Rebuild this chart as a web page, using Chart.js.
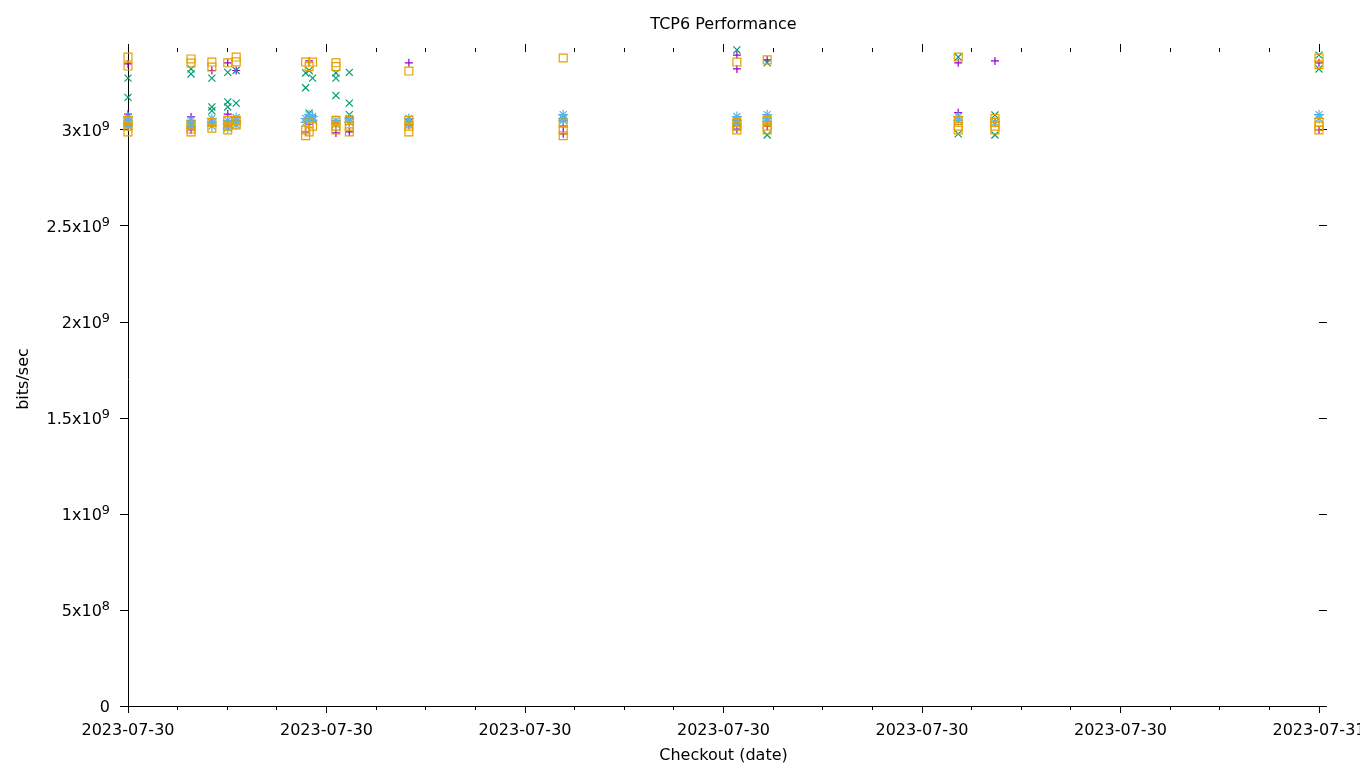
<!DOCTYPE html>
<html>
<head>
<meta charset="utf-8">
<title>TCP6 Performance</title>
<script src="https://cdn.jsdelivr.net/npm/chart.js@4.4.1/dist/chart.umd.min.js"></script>
<style>
    html, body { margin: 0; padding: 0; background: #fff; }
    #wrap { width: 1360px; height: 768px; }
</style>
</head>
<body>
<div id="wrap"><canvas id="perfChart"></canvas></div>
<script>
// hours after 2023-07-30 00:00 for each checkout run
const runHours = [0, 1.27, 1.69, 2.01, 2.18, 3.58, 3.65, 3.72, 4.19, 4.46, 5.66, 8.77, 12.27, 12.88, 16.73, 17.47, 24];

// measured throughput per run, in units of 1e9 bits/sec
const plusValues = [
    [3.344, 3.083, 3.02], [3.068, 3.0], [3.31, 3.04], [3.35, 3.083, 3.02], [3.31, 3.05],
    [2.99], [3.36, 3.03], [], [2.985, 3.03], [2.99, 3.04], [3.35, 3.026],
    [2.98, 3.02], [3.39, 3.318, 3.005], [3.365, 3.02], [3.35, 3.09], [3.36, 3.04], [3.35, 3.0]
];
const crossValues = [
    [3.27, 3.17, 3.04], [3.318, 3.292, 3.03], [3.27, 3.12, 3.1], [3.30, 3.146, 3.12], [3.31, 3.14],
    [3.297, 3.22], [3.31, 3.088], [3.27, 3.06], [3.297, 3.27, 3.18], [3.30, 3.14, 3.08], [3.04],
    [3.06], [3.417, 3.04], [3.35, 2.974], [3.38, 2.98], [3.078, 2.974], [3.39, 3.318]
];
const starValues = [
    [3.068, 3.05, 3.036, 3.02], [3.05, 3.036, 3.02], [3.06, 3.04, 3.02], [3.05, 3.03, 3.01], [3.065, 3.045, 3.026],
    [3.06, 3.04], [3.08, 3.06], [3.07, 3.05], [3.05, 3.03], [3.06, 3.04], [3.06, 3.03],
    [3.08, 3.06, 3.05], [3.07, 3.05, 3.03], [3.08, 3.06, 3.045], [3.07, 3.05], [3.04], [3.08, 3.06]
];
const squareValues = [
    [3.38, 3.333, 3.05, 3.02, 2.99], [3.37, 3.349, 3.026, 3.005, 2.99], [3.354, 3.328, 3.04, 3.01], [3.35, 3.05, 3.02, 3.0], [3.38, 3.355, 3.05, 3.026],
    [3.354, 3.0, 2.97], [3.33, 3.036, 2.99], [3.354, 3.02], [3.35, 3.33, 3.05, 3.02, 3.0], [3.05, 3.02, 2.99], [3.307, 3.05, 3.02, 2.99],
    [3.375, 3.036, 3.0, 2.97], [3.354, 3.04, 3.02, 3.0], [3.365, 3.05, 3.02, 3.0], [3.38, 3.05, 3.02, 3.0], [3.06, 3.04, 3.02, 3.0], [3.375, 3.34, 3.04, 3.02, 3.0]
];

const FAMILY = '"DejaVu Sans", sans-serif';
const FONT = { family: FAMILY, size: 16 };
const Y_MAX = 3.40625;

function toPoints(values) {
    const pts = [];
    values.forEach((list, i) => {
        list.forEach(v => pts.push({ x: runHours[i], y: v }));
    });
    return pts;
}

// "3x10" + superscript "9", gnuplot style
function sciParts(g) {
    const v = g * 1e9;
    if (v === 0) return ['0', ''];
    const exp = Math.floor(Math.log10(v) + 1e-9);
    const mant = +(v / Math.pow(10, exp)).toFixed(2);
    return [mant + 'x10', String(exp)];
}

function dateLabel(h) {
    return new Date(Date.UTC(2023, 6, 30) + h * 3600e3).toISOString().slice(0, 10);
}

// y tick labels with a real superscript exponent
const supLabels = {
    id: 'supLabels',
    afterDraw(chart) {
        const s = chart.scales.y;
        const ctx = chart.ctx;
        ctx.save();
        ctx.fillStyle = '#000';
        ctx.textAlign = 'left';
        ctx.textBaseline = 'alphabetic';
        s.ticks.forEach(t => {
            const [base, sup] = sciParts(t.value);
            const y = Math.round(s.getPixelForValue(t.value)) + 6;
            ctx.font = '12.8px ' + FAMILY;
            const ws = sup ? ctx.measureText(sup).width : 0;
            ctx.font = '16px ' + FAMILY;
            const wb = ctx.measureText(base).width;
            const xEnd = s.right - 18;
            ctx.fillText(base, xEnd - ws - wb, y);
            if (sup) {
                ctx.font = '12.8px ' + FAMILY;
                ctx.fillText(sup, xEnd - ws, y - 6);
            }
        });
        ctx.restore();
    },
};

// tick-only axis used for mirrored and minor tick marks
function tickAxis(position, step, len, weight, max) {
    return {
        type: 'linear',
        position: position,
        weight: weight,
        min: 0,
        max: max,
        ticks: { display: false, stepSize: step, includeBounds: false },
        grid: { drawOnChartArea: false, drawTicks: true, tickLength: len, color: '#000', tickColor: '#000' },
        border: { display: false },
        afterFit: s => {
            if (s.isHorizontal()) { s.height = 0; s.paddingLeft = 0; s.paddingRight = 0; }
            else { s.width = position === 'right' ? 41 : 0; s.paddingTop = 0; s.paddingBottom = 0; }
        },
    };
}

new Chart(document.getElementById('perfChart'), {
    type: 'scatter',
    data: {
        datasets: [
            {
                label: 'series 1',
                data: toPoints(plusValues),
                pointStyle: 'cross',
                pointRadius: 4,
                borderColor: '#9400d3',
                backgroundColor: 'rgba(0,0,0,0)',
                borderWidth: 1.2,
                clip: false,
                order: 4,
            },
            {
                label: 'series 2',
                data: toPoints(crossValues),
                pointStyle: 'crossRot',
                pointRadius: 5,
                borderColor: '#009e73',
                backgroundColor: 'rgba(0,0,0,0)',
                borderWidth: 1.2,
                clip: false,
                order: 3,
            },
            {
                label: 'series 3',
                data: toPoints(starValues),
                pointStyle: 'star',
                pointRadius: 5,
                borderColor: '#56b4e9',
                backgroundColor: 'rgba(0,0,0,0)',
                borderWidth: 1.2,
                clip: false,
                order: 2,
            },
            {
                label: 'series 4',
                data: toPoints(squareValues),
                pointStyle: 'rect',
                pointRadius: 5.6,
                borderColor: '#e69f00',
                backgroundColor: 'rgba(0,0,0,0)',
                borderWidth: 1.2,
                clip: false,
                order: 1,
            },
        ],
    },
    options: {
        responsive: true,
        maintainAspectRatio: false,
        animation: false,
        devicePixelRatio: 1,
        layout: { padding: 0 },
        plugins: {
            legend: { display: false },
            tooltip: { enabled: false },
            title: {
                display: true,
                fullSize: false,
                text: 'TCP6 Performance',
                color: '#000',
                font: { family: FAMILY, size: 16, weight: 'normal' },
                padding: { top: 15, bottom: 17.8 },
            },
        },
        scales: {
            x: {
                type: 'linear',
                position: 'bottom',
                weight: 1,
                min: 0,
                max: 24,
                grid: { drawOnChartArea: false, drawTicks: true, tickLength: 7, color: '#000', tickColor: '#000' },
                border: { display: true, color: '#000', width: 1 },
                ticks: {
                    stepSize: 4,
                    color: '#000',
                    font: FONT,
                    padding: 8,
                    maxRotation: 0,
                    autoSkip: false,
                    callback: v => dateLabel(v),
                },
                title: { display: true, text: 'Checkout (date)', color: '#000', font: FONT, padding: { top: 0, bottom: 3 } },
                afterFit: s => { s.height = 62; s.paddingLeft = 0; s.paddingRight = 0; },
            },
            xMinor: tickAxis('bottom', 1, 4, 0, 24),
            xTop: tickAxis('top', 4, 8, 1, 24),
            xTopMinor: tickAxis('top', 1, 4, 0, 24),
            y: {
                type: 'linear',
                position: 'left',
                weight: 1,
                min: 0,
                max: Y_MAX,
                grid: { drawOnChartArea: false, drawTicks: true, tickLength: 8, color: '#000', tickColor: '#000' },
                border: { display: true, color: '#000', width: 1 },
                ticks: { display: false, stepSize: 0.5, includeBounds: false },
                title: { display: true, text: 'bits/sec', color: '#000', font: FONT, padding: { top: 14, bottom: 0 } },
                afterFit: s => { s.width = 128; s.paddingTop = 0; s.paddingBottom = 0; },
            },
            yRight: tickAxis('right', 0.5, 8, 1, Y_MAX),
        },
    },
    plugins: [supLabels],
});
</script>
</body>
</html>
